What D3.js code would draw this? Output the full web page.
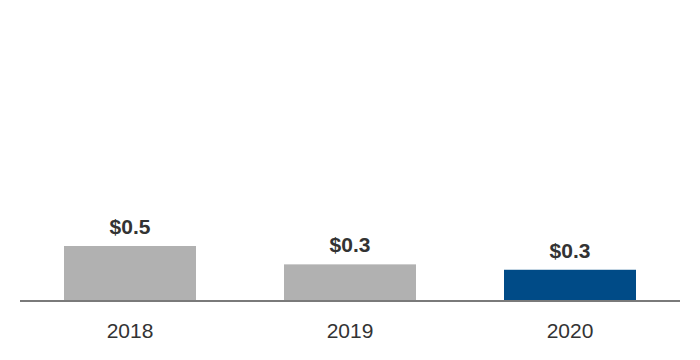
<!DOCTYPE html>
<html>
<head>
<meta charset="utf-8">
<script src="https://cdn.jsdelivr.net/npm/d3@7"></script>
<style>
  body { margin: 0; background: #fff; }
  svg { display: block; }
</style>
</head>
<body>
<svg id="chart" width="700" height="360"></svg>
<script>
// values
let years = ["2018", "2019", "2020"];
let amounts = [0.5, 0.33, 0.28];
let labels = ["$0.5", "$0.3", "$0.3"];
let barColors = ["#b1b1b1", "#b1b1b1", "#004b87"];

let svg = d3.select("#chart");

let baseY = 300;

let x = d3.scaleBand()
    .domain(years)
    .range([20, 680])
    .paddingInner(0.4)
    .paddingOuter(0.2);

let y = d3.scaleLinear()
    .domain([0, 0.5])
    .range([baseY, 246]);

// bars
svg.selectAll("rect.bar")
    .data(years)
    .enter()
    .append("rect")
    .attr("class", "bar")
    .attr("x", d => x(d))
    .attr("width", x.bandwidth())
    .attr("y", (d, i) => y(amounts[i]))
    .attr("height", (d, i) => baseY - y(amounts[i]))
    .attr("fill", (d, i) => barColors[i]);

// baseline
svg.append("line")
    .attr("x1", 20)
    .attr("x2", 680)
    .attr("y1", baseY + 1)
    .attr("y2", baseY + 1)
    .attr("stroke", "#7a7a7a")
    .attr("stroke-width", 2);

// value labels
svg.selectAll("text.value")
    .data(years)
    .enter()
    .append("text")
    .attr("class", "value")
    .attr("x", d => x(d) + x.bandwidth() / 2)
    .attr("y", (d, i) => y(amounts[i]) - 12)
    .attr("text-anchor", "middle")
    .style("font-family", "Liberation Sans, Arial, sans-serif")
    .style("font-size", "21px")
    .style("font-weight", "bold")
    .style("fill", "#333")
    .text((d, i) => labels[i]);

// year labels
svg.selectAll("text.year")
    .data(years)
    .enter()
    .append("text")
    .attr("class", "year")
    .attr("x", d => x(d) + x.bandwidth() / 2)
    .attr("y", 337.5)
    .attr("text-anchor", "middle")
    .style("font-family", "Liberation Sans, Arial, sans-serif")
    .style("font-size", "21px")
    .style("fill", "#333")
    .text(d => d);
</script>
</body>
</html>
